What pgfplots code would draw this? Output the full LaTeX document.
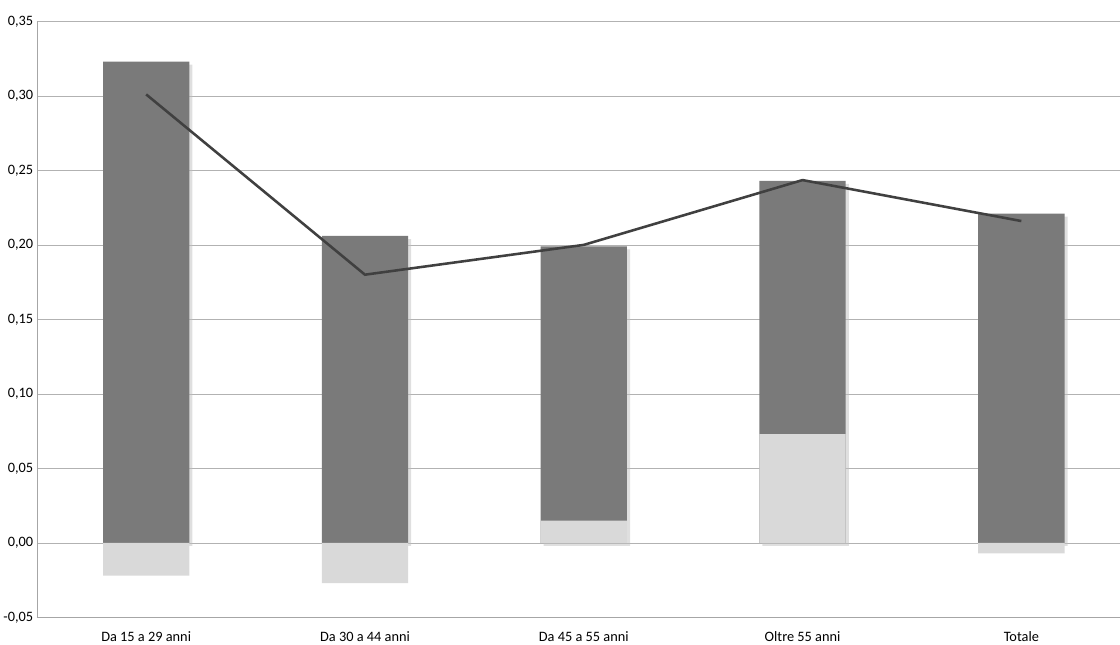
\documentclass[border=0pt]{standalone}
\usepackage{pgfplots}
\pgfplotsset{compat=1.18}
\usepackage{fontspec}
\setmainfont{Carlito}
\begin{document}
\begin{tikzpicture}[x=1bp,y=1bp]
\begin{axis}[scale only axis, width=1054bp, height=580bp,
  xmin=-0.5, xmax=4.45, ymin=-0.05, ymax=0.35,
  axis x line=bottom, axis y line=left, axis line style={draw=gray!70,-},
  ytick={-0.05,0,0.05,0.1,0.15,0.2,0.25,0.3,0.35},
  ymajorgrids, grid style={gray!60},
  xtick={0,1,2,3,4},
  xticklabels={Da 15 a 29 anni,Da 30 a 44 anni,Da 45 a 55 anni,Oltre 55 anni,Totale},
  major tick length=0pt,
  x tick label style={yshift=-10bp},
  y tick label style={/pgf/number format/.cd,fixed,fixed zerofill,precision=2,use comma},
  /pgf/number format/assume math mode=true,
  tick label style={font=\fontsize{14}{16}\selectfont},
  ybar, bar width=84bp, bar shift=0pt,
  clip=false]
\addplot[fill=black!52, draw=none, preaction={fill=black!25, opacity=0.5, transform canvas={xshift=3bp,yshift=-3bp}}] coordinates {(0,0.323) (1,0.206) (2,0.199) (3,0.243) (4,0.221)};
\addplot[fill=black!15, draw=none] coordinates {(0,-0.022) (1,-0.027) (2,0.015) (3,0.073) (4,-0.007)};
\addplot[sharp plot, draw=black!75, line width=2.5pt, mark=none] coordinates {(0,0.301) (1,0.180) (2,0.200) (3,0.2435) (4,0.216)};
\node at (rel axis cs:0,1) [above=14bp] {};
\end{axis}
\end{tikzpicture}
\end{document}
